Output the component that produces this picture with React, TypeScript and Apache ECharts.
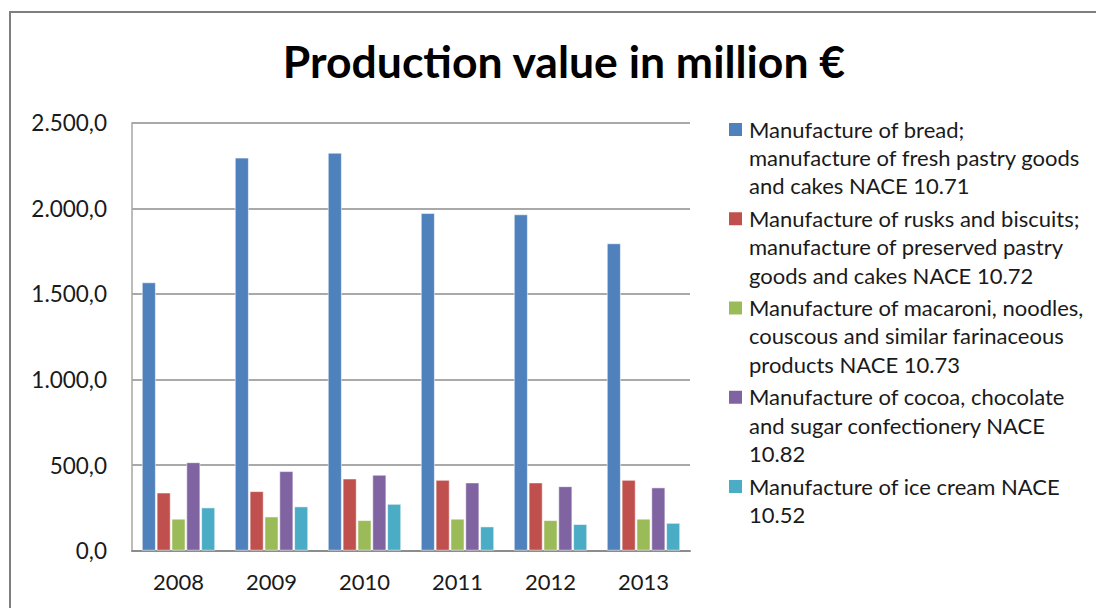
import React, { useEffect, useRef } from "react";
import * as echarts from "echarts";

const title = "Production value in million €";
const years = ["2008", "2009", "2010", "2011", "2012", "2013"];
const seriesNames = [
  "Manufacture of bread;\nmanufacture of fresh pastry goods\nand cakes NACE 10.71",
  "Manufacture of rusks and biscuits;\nmanufacture of preserved pastry\ngoods and cakes NACE 10.72",
  "Manufacture of macaroni, noodles,\ncouscous and similar farinaceous\nproducts NACE 10.73",
  "Manufacture of cocoa, chocolate\nand sugar confectionery NACE\n10.82",
  "Manufacture of ice cream NACE\n10.52",
];
const bread = [1568, 2296, 2325, 1973, 1965, 1796];
const biscuits = [340, 348, 422, 414, 399, 414];
const pasta = [187, 200, 179, 187, 179, 187];
const cocoa = [517, 465, 444, 399, 377, 370];
const iceCream = [253, 259, 274, 142, 156, 163];
const seriesValues = [bread, biscuits, pasta, cocoa, iceCream];
const colors = ["#4F81BD", "#C0504D", "#9BBB59", "#8064A2", "#4BACC6"];

const yMin = 0;
const yMax = 2500;
const yStep = 500;

function fmt(v: number): string {
  const fixed = v.toFixed(1);
  const [intPart, dec] = fixed.split(".");
  const withSep = intPart.replace(/\B(?=(\d{3})+(?!\d))/g, ".");
  return withSep + "," + dec;
}

const FONT = "Lato, 'Noto Sans', sans-serif";

export default function App() {
  const ref = useRef<HTMLDivElement>(null);
  useEffect(() => {
    document.body.style.margin = "0";
    if (!ref.current) return;
    const chart = echarts.init(ref.current, undefined, { renderer: "svg" });

    const legendGraphics: any[] = [];
    seriesNames.forEach((name, i) => {
      const cy = 129.5 + i * 89.25;
      legendGraphics.push({
        type: "rect",
        shape: { x: 729, y: cy - 6.5, width: 13, height: 13 },
        style: { fill: colors[i] },
        silent: true,
      });
      legendGraphics.push({
        type: "text",
        x: 749,
        y: cy - 14.5,
        style: {
          text: name,
          font: "22px " + FONT,
          fill: "#1a1a1a",
          lineHeight: 28.3,
          textVerticalAlign: "top",
          verticalAlign: "top",
        },
        silent: true,
      });
    });

    chart.setOption({
      animation: false,
      backgroundColor: "#ffffff",
      textStyle: { fontFamily: FONT },
      title: {
        text: title,
        left: 564,
        textAlign: "center",
        top: 38,
        padding: 0,
        textStyle: {
          fontFamily: FONT,
          fontSize: 44.5,
          fontWeight: "bold",
          color: "#000000",
        },
      },
      grid: {
        left: 132,
        right: 406,
        top: 122.7,
        bottom: 57.3,
        containLabel: false,
        outerBoundsMode: "none",
      },
      xAxis: {
        type: "category",
        data: years,
        axisLine: { show: true, lineStyle: { color: "#8c8c8c", width: 2 } },
        axisTick: { show: false },
        axisLabel: {
          fontSize: 22,
          color: "#1a1a1a",
          margin: 20,
          fontFamily: FONT,
        },
      },
      yAxis: {
        type: "value",
        min: yMin,
        max: yMax,
        interval: yStep,
        axisLine: { show: true, lineStyle: { color: "#a6a6a6", width: 1.5 } },
        axisTick: { show: false },
        splitLine: { show: true, lineStyle: { color: "#8c8c8c", width: 1.5 } },
        axisLabel: {
          fontSize: 22.5,
          color: "#1a1a1a",
          margin: 25,
          fontFamily: FONT,
          formatter: (v: number) => fmt(v),
        },
      },
      series: seriesValues.map((vals, i) => ({
        type: "bar",
        name: seriesNames[i],
        data: vals,
        barCategoryGap: "21%",
        barGap: "5%",
        itemStyle: {
          color: colors[i],
          borderColor: "rgba(255,255,255,0.55)",
          borderWidth: 1,
        },
      })),
      graphic: [
        {
          type: "polyline",
          shape: {
            points: [
              [10, 620],
              [10, 12],
              [1110, 12],
            ],
          },
          style: { stroke: "#7f7f7f", lineWidth: 2, fill: "none" },
          silent: true,
        },
        ...legendGraphics,
      ],
    });
    return () => chart.dispose();
  }, []);
  return (
    <div
      ref={ref}
      style={{ width: 1096, height: 608, position: "absolute", left: 0, top: 0 }}
    />
  );
}
